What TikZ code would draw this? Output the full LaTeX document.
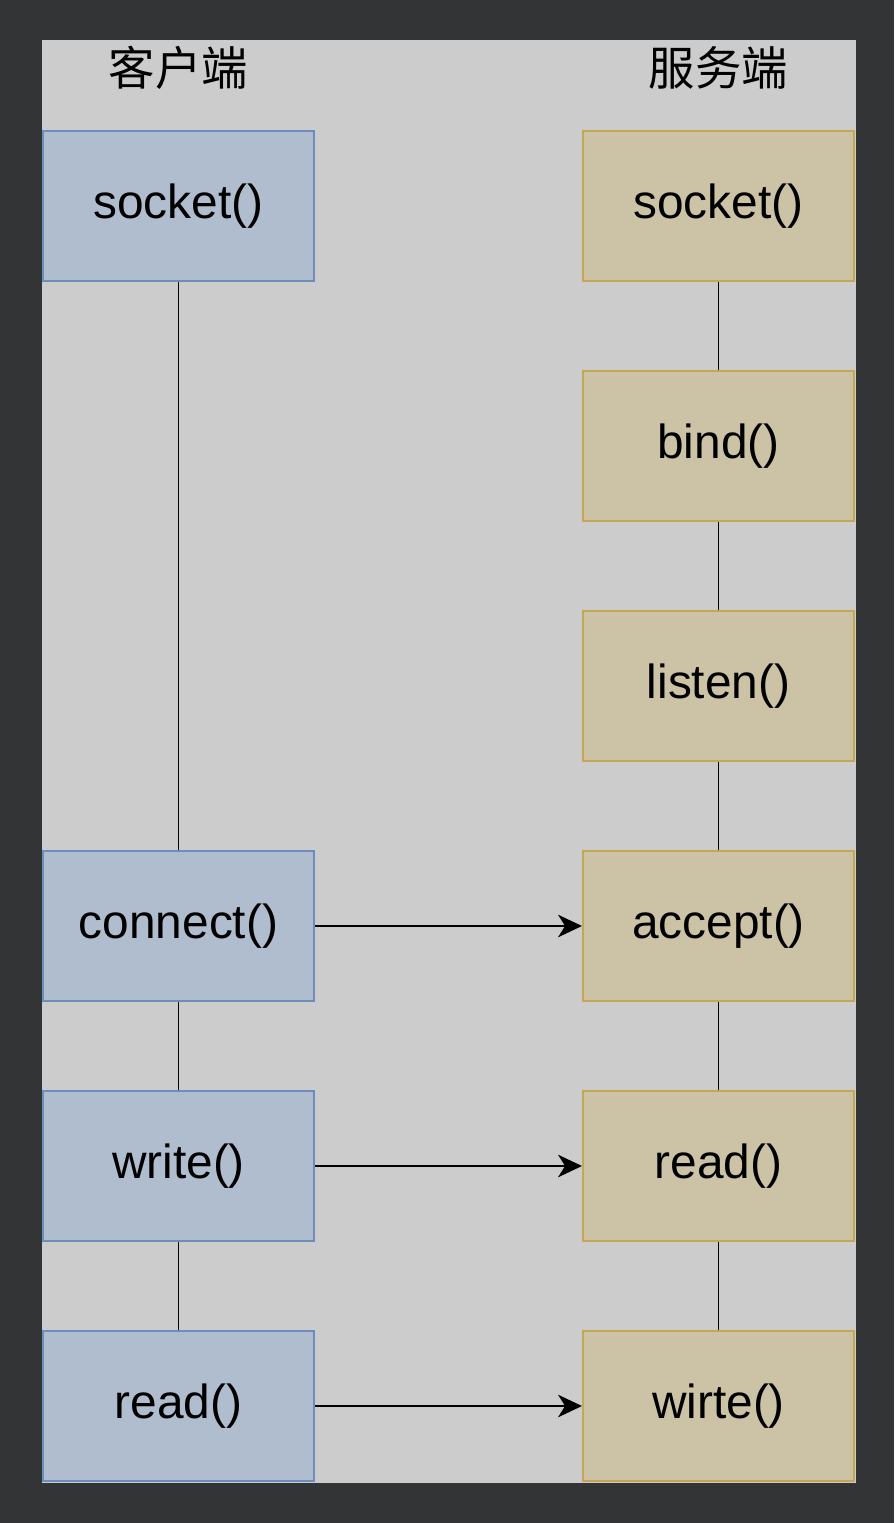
\documentclass[tikz,border=0pt]{standalone}
\usepackage{fontspec}
\setmainfont{Liberation Sans}
\newfontfamily\cjkfont{Noto Sans CJK SC}
\usepackage{xcolor}
\usetikzlibrary{positioning, arrows.meta}

\definecolor{pagedark}{HTML}{333436}
\definecolor{panelgray}{HTML}{CCCCCC}
\definecolor{clientfill}{HTML}{B0BDCE}
\definecolor{clientline}{HTML}{6C8EBF}
\definecolor{serverfill}{HTML}{CCC2A5}
\definecolor{serverline}{HTML}{C4A750}

\begin{document}
\begin{tikzpicture}[
        x=0.025cm, y=-0.025cm,
        call_box/.style={minimum width=6.775cm, minimum height=3.75cm, inner sep=0pt,
                         line width=1.4pt, font=\fontsize{34}{40}\selectfont},
        client_box/.style={call_box, draw=clientline, fill=clientfill},
        server_box/.style={call_box, draw=serverline, fill=serverfill},
        head_label/.style={font=\cjkfont\fontsize{33}{40}\selectfont},
        link_style/.style={line width=1.4pt},
        arrow_style/.style={-{Stealth[length=17pt, width=16pt, inset=5pt]}, line width=1.5pt}
    ]

    % =========================================================================
    % 1. BACKGROUND AND PANEL
    % =========================================================================
    \fill[pagedark] (0,0) rectangle (894,1523);
    \useasboundingbox (0,0) rectangle (894,1523);
    \fill[panelgray] (42,40) rectangle (856,1483);

    % =========================================================================
    % 2. COLUMN HEADERS
    % =========================================================================
    \node[head_label] (client_head) at (178.5, 68) {客户端};
    \node[head_label] (server_head) at (718.5, 68) {服务端};

    % =========================================================================
    % 3. SERVER CALLS (right column, 240px pitch)
    % =========================================================================
    \node[server_box] (S1) at (718.5, 206) {socket()};
    \node[server_box] (S2) at (718.5, 446) {bind()};
    \node[server_box] (S3) at (718.5, 686) {listen()};
    \node[server_box] (S4) at (718.5, 926) {accept()};
    \node[server_box] (S5) at (718.5, 1166) {read()};
    \node[server_box] (S6) at (718.5, 1406) {wirte()};

    % =========================================================================
    % 4. CLIENT CALLS (left column)
    % =========================================================================
    \node[client_box] (C1) at (178.5, 206) {socket()};
    \node[client_box] (C2) at (178.5, 926) {connect()};
    \node[client_box] (C3) at (178.5, 1166) {write()};
    \node[client_box] (C4) at (178.5, 1406) {read()};

    % =========================================================================
    % 5. VERTICAL LINKS
    % =========================================================================
    \draw[link_style] (S1.south) -- (S2.north);
    \draw[link_style] (S2.south) -- (S3.north);
    \draw[link_style] (S3.south) -- (S4.north);
    \draw[link_style] (S4.south) -- (S5.north);
    \draw[link_style] (S5.south) -- (S6.north);

    \draw[link_style] (C1.south) -- (C2.north);
    \draw[link_style] (C2.south) -- (C3.north);
    \draw[link_style] (C3.south) -- (C4.north);

    % =========================================================================
    % 6. CLIENT TO SERVER ARROWS
    % =========================================================================
    \draw[arrow_style] (C2.east) -- (S4.west);
    \draw[arrow_style] (C3.east) -- (S5.west);
    \draw[arrow_style] (C4.east) -- (S6.west);

\end{tikzpicture}
\end{document}
